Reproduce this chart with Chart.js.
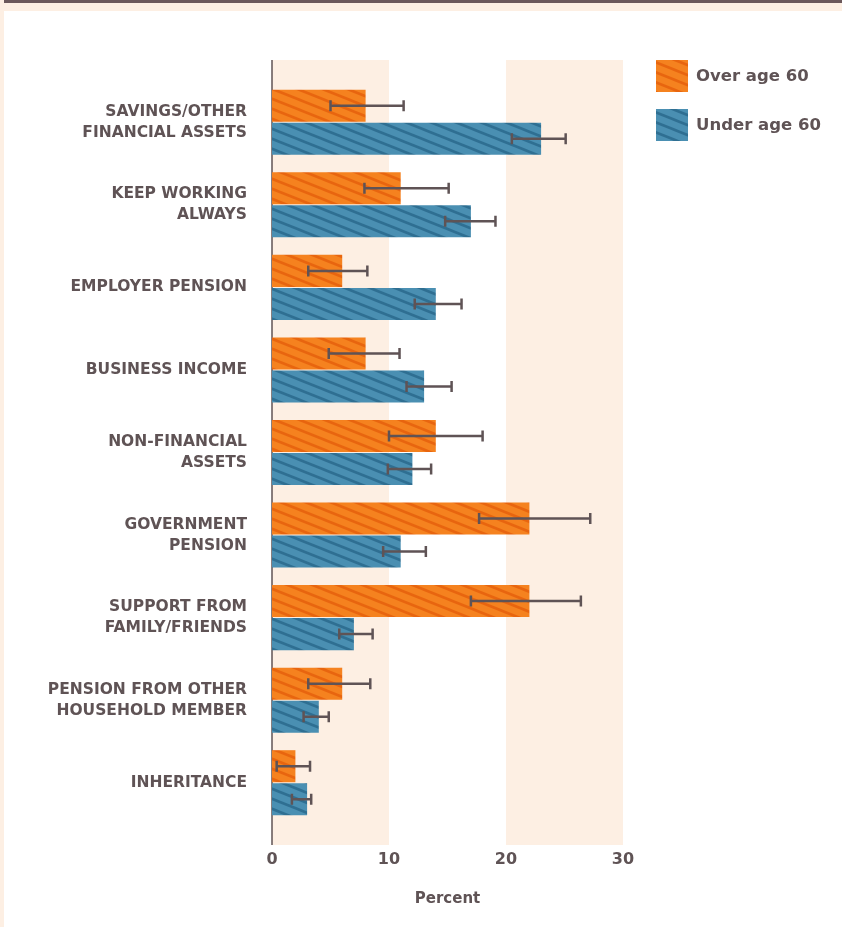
<!DOCTYPE html>
<html>
<head>
<meta charset="utf-8">
<script src="https://cdn.jsdelivr.net/npm/chart.js@4.4.1/dist/chart.umd.min.js"></script>
<style>
html, body { margin: 0; padding: 0; background: #fff; }
#wrap { position: relative; width: 842px; height: 927px; overflow: hidden; }
#barraTop { position: absolute; left: 4px; top: 0; width: 838px; height: 3px; background: #6b585b; }
#franja { position: absolute; left: 0; top: 3px; width: 842px; height: 8px; background: #fdefe3; }
#lado { position: absolute; left: 0; top: 0; width: 4px; height: 927px; background: #fdefe3; }
canvas { position: absolute; left: 0; top: 0; }
</style>
</head>
<body>
<div id="wrap">
  <div id="barraTop"></div>
  <div id="franja"></div>
  <div id="lado"></div>
  <canvas id="canvasFuentes" width="842" height="927"></canvas>
</div>
<script>
// datos
var categorias = [
  ["SAVINGS/OTHER", "FINANCIAL ASSETS"],
  ["KEEP WORKING", "ALWAYS"],
  "EMPLOYER PENSION",
  "BUSINESS INCOME",
  ["NON-FINANCIAL", "ASSETS"],
  ["GOVERNMENT", "PENSION"],
  ["SUPPORT FROM", "FAMILY/FRIENDS"],
  ["PENSION FROM OTHER", "HOUSEHOLD MEMBER"],
  "INHERITANCE"
];
var serieNombres = ["Over age 60", "Under age 60"];
var overAge = [8, 11, 6, 8, 14, 22, 22, 6, 2];
var overLow = [5.0, 7.9, 3.1, 4.85, 10.0, 17.7, 17.0, 3.1, 0.4];
var overHigh = [11.25, 15.1, 8.15, 10.9, 18.0, 27.2, 26.4, 8.4, 3.25];
var underAge = [23, 17, 14, 13, 12, 11, 7, 4, 3];
var underLow = [20.5, 14.8, 12.2, 11.5, 9.9, 9.5, 5.75, 2.7, 1.7];
var underHigh = [25.1, 19.1, 16.2, 15.35, 13.6, 13.15, 8.6, 4.85, 3.35];
var xTicks = [0, 10, 20, 30];
var bandas = [[0, 10], [20, 30]];

var textoColor = "#5f5355";
var fuente = "'DejaVu Sans', sans-serif";

function rayado(base, linea) {
  var c = document.createElement("canvas");
  c.width = 25;
  c.height = 10;
  var g = c.getContext("2d");
  g.fillStyle = base;
  g.fillRect(0, 0, 25, 10);
  g.strokeStyle = linea;
  g.lineWidth = 2.6;
  for (var k = -1; k <= 1; k++) {
    g.beginPath();
    g.moveTo(-25, -10 + k * 10);
    g.lineTo(50, 20 + k * 10);
    g.stroke();
  }
  return document.getElementById("canvasFuentes").getContext("2d").createPattern(c, "repeat");
}

var naranja = rayado("#f5821f", "#e8650f");
var azul = rayado("#4a8fb2", "#2f6f92");

// franjas de fondo y eje
var fondo = {
  id: "fondo",
  beforeDatasetsDraw: function (chart) {
    var ctx = chart.ctx;
    var a = chart.chartArea;
    var x = chart.scales.x;
    ctx.save();
    ctx.fillStyle = "#fdefe3";
    bandas.forEach(function (b) {
      var x1 = x.getPixelForValue(b[0]);
      var x2 = x.getPixelForValue(b[1]);
      ctx.fillRect(x1, a.top - 21, x2 - x1, a.bottom - a.top + 42);
    });
    ctx.strokeStyle = textoColor;
    ctx.lineWidth = 1.5;
    ctx.beginPath();
    ctx.moveTo(a.left, a.top - 21);
    ctx.lineTo(a.left, a.bottom + 21);
    ctx.stroke();
    ctx.restore();
  }
};

// barras de error
var barrasError = {
  id: "barrasError",
  afterDatasetsDraw: function (chart) {
    var ctx = chart.ctx;
    var x = chart.scales.x;
    var rangos = [[overLow, overHigh], [underLow, underHigh]];
    ctx.save();
    ctx.strokeStyle = textoColor;
    ctx.lineWidth = 2.5;
    for (var d = 0; d < 2; d++) {
      var meta = chart.getDatasetMeta(d);
      meta.data.forEach(function (bar, i) {
        var x1 = x.getPixelForValue(rangos[d][0][i]);
        var x2 = x.getPixelForValue(rangos[d][1][i]);
        var y = bar.y;
        ctx.beginPath();
        ctx.moveTo(x1, y);
        ctx.lineTo(x2, y);
        ctx.moveTo(x1, y - 5.5);
        ctx.lineTo(x1, y + 5.5);
        ctx.moveTo(x2, y - 5.5);
        ctx.lineTo(x2, y + 5.5);
        ctx.stroke();
      });
    }
    ctx.restore();
  }
};

// leyenda
var leyenda = {
  id: "leyenda",
  afterDraw: function (chart) {
    var ctx = chart.ctx;
    ctx.save();
    ctx.font = "bold 16.5px " + fuente;
    ctx.textBaseline = "middle";
    chart.data.datasets.forEach(function (ds, i) {
      var y = 60 + i * 49;
      ctx.fillStyle = ds.backgroundColor;
      ctx.fillRect(656, y, 32, 32);
      ctx.fillStyle = textoColor;
      ctx.fillText(ds.label, 696, y + 17);
    });
    ctx.restore();
  }
};

var ctx = document.getElementById("canvasFuentes").getContext("2d");
new Chart(ctx, {
  type: "bar",
  data: {
    labels: categorias,
    datasets: [
      { label: serieNombres[0], data: overAge, backgroundColor: naranja, borderWidth: 0 },
      { label: serieNombres[1], data: underAge, backgroundColor: azul, borderWidth: 0 }
    ]
  },
  options: {
    indexAxis: "y",
    responsive: false,
    animation: false,
    devicePixelRatio: 1,
    categoryPercentage: 0.8,
    barPercentage: 0.97,
    layout: { padding: { top: 81, right: 219, bottom: 0, left: 0 } },
    plugins: {
      legend: { display: false },
      tooltip: { enabled: false }
    },
    scales: {
      x: {
        min: 0,
        max: 30,
        afterBuildTicks: function (s) {
          s.ticks = xTicks.map(function (v) { return { value: v }; });
        },
        afterFit: function (s) { s.height = 103; },
        grid: { display: false, drawTicks: false },
        border: { display: false },
        ticks: {
          padding: 26,
          color: textoColor,
          font: { family: fuente, size: 16, weight: "bold" }
        },
        title: {
          display: true,
          text: "Percent",
          color: textoColor,
          font: { family: fuente, size: 15, weight: "bold" },
          padding: { top: 0, bottom: 19 }
        }
      },
      y: {
        afterFit: function (s) { s.width = 272; },
        grid: { display: false, drawTicks: false },
        border: { display: false },
        ticks: {
          padding: 25,
          color: textoColor,
          font: { family: fuente, size: 15.5, weight: "bold", lineHeight: 1.36 }
        }
      }
    }
  },
  plugins: [fondo, barrasError, leyenda]
});
</script>
</body>
</html>
